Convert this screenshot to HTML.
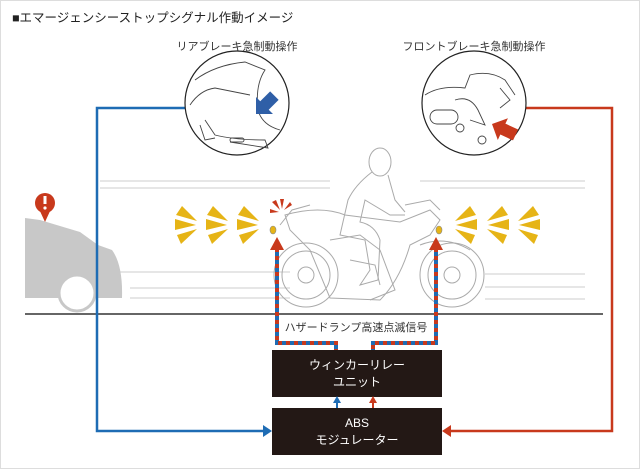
<!DOCTYPE html>
<html><head><meta charset="utf-8"><style>
html,body{margin:0;padding:0;background:#fff}
svg{display:block}
text{font-family:"Liberation Sans","Noto Sans CJK JP",sans-serif}
</style></head><body>
<svg width="640" height="469" viewBox="0 0 640 469" xmlns="http://www.w3.org/2000/svg">
<rect x="0.5" y="0.5" width="639" height="468" fill="#fff" stroke="#ddd"/>
<text x="12" y="22" font-size="12.5" fill="#222">■エマージェンシーストップシグナル作動イメージ</text>
<text x="237" y="50" font-size="11" fill="#333" text-anchor="middle">リアブレーキ急制動操作</text>
<text x="474" y="50" font-size="11" fill="#333" text-anchor="middle">フロントブレーキ急制動操作</text>

<g stroke="#ccc" stroke-width="1">
<line x1="100" y1="181" x2="330" y2="181"/><line x1="100" y1="188" x2="330" y2="188"/>
<line x1="420" y1="181" x2="585" y2="181"/><line x1="440" y1="188" x2="585" y2="188"/>
<line x1="110" y1="272" x2="290" y2="272"/><line x1="130" y1="288" x2="290" y2="288"/><line x1="130" y1="298" x2="290" y2="298"/>
<line x1="485" y1="274" x2="585" y2="274"/><line x1="485" y1="287" x2="585" y2="287"/><line x1="485" y1="299" x2="585" y2="299"/>
</g>

<path d="M25 218 L40 220 L80 232 L98 245 L112 250 Q123 265 122 298 L25 298 Z" fill="#c8c8c8"/>
<circle cx="77" cy="293" r="18" fill="#fff" stroke="#c8c8c8" stroke-width="3"/>
<circle cx="45" cy="203" r="10" fill="#c8391c"/>
<path d="M39 209 L45 222 L51 209 Z" fill="#c8391c"/>
<rect x="43.5" y="196" width="3" height="8" fill="#fff"/><circle cx="45" cy="208" r="1.6" fill="#fff"/>

<line x1="25" y1="314" x2="603" y2="314" stroke="#666" stroke-width="2"/>

<g fill="none" stroke="#aaa" stroke-width="1">
<circle cx="306" cy="275" r="32"/><circle cx="306" cy="275" r="24"/><circle cx="306" cy="275" r="8"/>
<circle cx="452" cy="275" r="32"/><circle cx="452" cy="275" r="24"/><circle cx="452" cy="275" r="8"/>
<path d="M285 215 Q320 205 345 215 L400 222 L430 210 L440 220 L430 235 L410 245 Q400 280 380 300 L330 298 L310 250 L290 230 Z"/>
<path d="M330 240 L360 235 L380 250 L395 290 L370 300"/>
<ellipse cx="380" cy="162" rx="11" ry="14"/>
<path d="M372 172 Q355 185 348 200 L340 235 L365 240 L370 270 L360 285 L378 280 L380 240 Q375 225 360 222 L365 200 L390 215 L405 215"/>
<path d="M388 175 L395 200 L405 212"/>
<path d="M405 205 L430 200 L440 210"/>
<path d="M420 245 Q445 235 470 250"/>
<path d="M350 260 L375 265 L380 285"/>
<path d="M280 225 L292 210 L310 205"/>
</g>

<defs>
<g id="fr" fill="#e6b416">
<polygon points="3,-4 18,-19 24,-10"/>
<polygon points="4,0 25,-6 25,5"/>
<polygon points="3,4 23,10 19,19"/>
</g>
</defs>
<use href="#fr" x="452" y="225"/><use href="#fr" x="484" y="225"/><use href="#fr" x="515" y="225"/>
<g transform="translate(262,225) scale(-1,1)"><use href="#fr"/></g>
<g transform="translate(231,225) scale(-1,1)"><use href="#fr"/></g>
<g transform="translate(200,225) scale(-1,1)"><use href="#fr"/></g>
<g fill="#c8391c" transform="translate(282,212)">
<polygon points="-2,-2 -10,-10 -6,-12"/><polygon points="0,-3 -2,-13 2,-13"/><polygon points="2,-2 8,-10 10,-7"/><polygon points="-3,0 -12,-3 -12,1"/>
</g>
<ellipse cx="273" cy="230" rx="3" ry="4" fill="#e6b416" stroke="#888" stroke-width="0.6"/>
<ellipse cx="439" cy="230" rx="3" ry="4" fill="#e6b416" stroke="#888" stroke-width="0.6"/>

<g fill="none" stroke-width="4">
<path d="M277 248 V343 H336 V351 M436 248 V343 H373 V351" stroke="#1e6cb4"/>
<path d="M277 248 V343 H336 V351 M436 248 V343 H373 V351" stroke="#c8391c" stroke-dasharray="4 4"/>
</g>
<polygon points="270,250 277,237 284,250" fill="#c8391c"/>
<polygon points="429,250 436,237 443,250" fill="#c8391c"/>
<text x="356" y="331" font-size="11" fill="#333" text-anchor="middle">ハザードランプ高速点滅信号</text>

<rect x="272" y="350" width="170" height="47" fill="#231815"/>
<text x="357" y="369" font-size="12" fill="#fff" text-anchor="middle">ウィンカーリレー</text>
<text x="357" y="386" font-size="12" fill="#fff" text-anchor="middle">ユニット</text>
<rect x="272" y="408" width="170" height="47" fill="#231815"/>
<text x="357" y="427" font-size="12" fill="#fff" text-anchor="middle">ABS</text>
<text x="357" y="444" font-size="12" fill="#fff" text-anchor="middle">モジュレーター</text>
<line x1="337" y1="408" x2="337" y2="402" stroke="#1e6cb4" stroke-width="2"/>
<polygon points="333,403 337,396 341,403" fill="#1e6cb4"/>
<line x1="373" y1="408" x2="373" y2="402" stroke="#c8391c" stroke-width="2"/>
<polygon points="369,403 373,396 377,403" fill="#c8391c"/>

<path d="M186 108 H97 V431 H264" fill="none" stroke="#1e6cb4" stroke-width="2.5"/>
<polygon points="263,425 272,431 263,437" fill="#1e6cb4"/>
<path d="M526 108 H612 V431 H450" fill="none" stroke="#c8391c" stroke-width="2.5"/>
<polygon points="451,425 442,431 451,437" fill="#c8391c"/>

<circle cx="237" cy="103" r="52" fill="#fff" stroke="#222" stroke-width="1.2"/>
<g fill="none" stroke="#444" stroke-width="0.9">
<path d="M195 80 Q215 65 245 62 L265 70 Q255 85 258 110 Q262 125 280 130"/>
<path d="M190 105 Q200 90 215 88 L250 95"/>
<path d="M205 120 L215 135 Q235 140 265 140 L268 148 L230 142"/>
<path d="M200 125 L205 140 L215 138"/>
<rect x="230" y="138" width="14" height="4" rx="2"/>
</g>
<polygon points="0,0 12,-12 12,-6 26,-6 26,6 12,6 12,12" fill="#2f5fa7" transform="translate(256,114) rotate(-45)"/>
<circle cx="474" cy="103" r="52" fill="#fff" stroke="#222" stroke-width="1.2"/>
<g fill="none" stroke="#444" stroke-width="0.9">
<path d="M425 95 Q440 85 465 88 L470 75 Q490 70 505 80 L515 95"/>
<rect x="430" y="110" width="28" height="14" rx="7"/>
<path d="M455 100 Q470 95 478 110 L485 125 L470 120"/>
<circle cx="460" cy="128" r="4"/><circle cx="482" cy="140" r="4"/>
<path d="M500 88 L510 100 L500 108"/>
</g>
<polygon points="0,0 12,-12 12,-6 26,-6 26,6 12,6 12,12" fill="#c8391c" transform="translate(492,124) rotate(25)"/>
</svg>
</body></html>
